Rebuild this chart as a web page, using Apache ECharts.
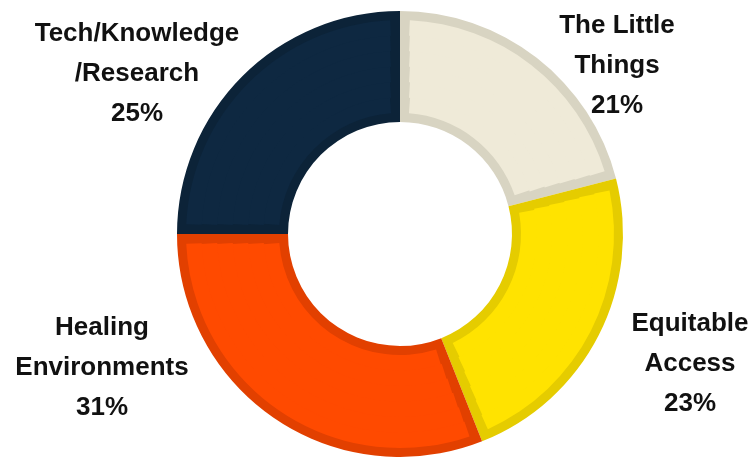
<!DOCTYPE html>
<html>
<head>
<meta charset="utf-8">
<script src="https://cdn.jsdelivr.net/npm/echarts@6/dist/echarts.min.js"></script>
<style>
html,body{margin:0;padding:0;background:#fff;}
#chart{width:756px;height:457px;}
</style>
</head>
<body>
<div id="chart"></div>
<script>
// Data
const categories = ['The Little\nThings', 'Equitable\nAccess', 'Healing\nEnvironments', 'Tech/Knowledge\n/Research'];
const values = [21, 23, 31, 25];
const fillColors = ['#EFEAD8', '#FFE300', '#FF4A00', '#0E2841'];
const borderColors = ['#D8D4C2', '#E5CC00', '#E24000', '#0C2338'];

// layout
const CENTER = [400, 234];
const R_IN = 112, R_OUT = 223, EDGE = 9;   // ring radii and inner border thickness
const GAP = 19;                              // total border strip width between slices
const RINGS = 6;
const labelPos = [[617, 66], [690, 364], [102, 368], [137, 74]];

const series = [];
// base ring in border colours (carries labels)
series.push({
  type: 'pie',
  center: CENTER,
  radius: [R_IN, R_OUT],
  startAngle: 90,
  clockwise: true,
  avoidLabelOverlap: false,
  labelLine: {show: false},
  label: {
    show: true,
    position: 'outside',
    formatter: p => p.name + '\n' + p.value + '%',
    fontFamily: 'Liberation Sans, Arial, sans-serif',
    fontWeight: 'bold',
    fontSize: 26,
    lineHeight: 40,
    color: '#111',
    align: 'center'
  },
  labelLayout: p => ({
    x: labelPos[p.dataIndex][0],
    y: labelPos[p.dataIndex][1],
    align: 'center',
    verticalAlign: 'middle'
  }),
  emphasis: {disabled: true},
  data: categories.map((c, i) => ({
    name: c, value: values[i],
    itemStyle: {color: borderColors[i], borderWidth: 0}
  }))
});
// fill rings inset by the border width
const r0 = R_IN + EDGE, r1 = R_OUT - EDGE;
const step = (r1 - r0) / RINGS;
for (let k = 0; k < RINGS; k++) {
  const a = r0 + k * step;
  const b = r0 + (k + 1) * step;
  const mid = (a + b) / 2;
  series.push({
    type: 'pie',
    silent: true,
    center: CENTER,
    radius: [a, k === RINGS - 1 ? b : b + 1],
    startAngle: 90,
    clockwise: true,
    padAngle: GAP / mid * 180 / Math.PI,
    label: {show: false},
    labelLine: {show: false},
    emphasis: {disabled: true},
    data: categories.map((c, i) => ({
      name: c, value: values[i],
      itemStyle: {color: fillColors[i], borderWidth: 0}
    }))
  });
}

const chart = echarts.init(document.getElementById('chart'), null, {renderer: 'canvas'});
chart.setOption({
  animation: false,
  backgroundColor: '#fff',
  tooltip: {show: false},
  series: series
});
</script>
</body>
</html>
